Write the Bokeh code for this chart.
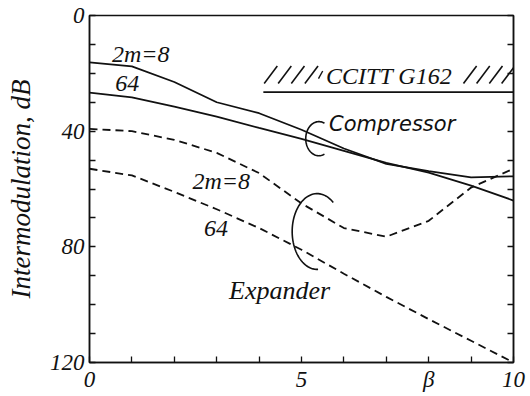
import numpy as np
from bokeh.plotting import figure
from bokeh.models import Range1d, LinearAxis, FixedTicker, Label
from bokeh.embed import file_html
from bokeh.resources import INLINE

# Modulation index beta
beta = [0, 1, 2, 3, 4, 5, 6, 7, 8, 9, 10]

# Intermodulation (dB) for compressor and expander, 2m = 8 and 64
comp_2m8 = [16.2, 17.6, 23.0, 30.0, 33.8, 39.5, 46.0, 51.3, 53.8, 56.0, 55.6]
comp_64 = [26.7, 28.3, 31.5, 35.0, 38.9, 42.7, 46.8, 51.0, 54.3, 58.8, 64.0]
exp_2m8 = [39.2, 40.0, 43.0, 47.5, 54.5, 65.0, 73.5, 76.5, 71.0, 59.5, 53.0]
exp_64 = [53.0, 55.3, 61.0, 67.0, 73.5, 81.0, 89.3, 97.3, 105.0, 112.5, 120.0]

# CCITT G162 limit
g162_level = 26.5
g162_start = 4.1
g162_end = 10.0

# Axis ticks and labels
y_ticks = list(range(0, 130, 10))
y_tick_labels = {0: "0", 40: "40", 80: "80", 120: "120"}
x_ticks = list(range(0, 11))
x_tick_labels = {0: "0", 5: "5", 8: "β", 10: "10"}

INK = "#111111"
SERIF = "Liberation Serif"

p = figure(width=530, height=396, output_backend="svg", toolbar_location=None,
           x_range=Range1d(0, 10), y_range=Range1d(120, 0),
           min_border_left=89, min_border_right=17,
           min_border_top=15, min_border_bottom=34,
           background_fill_color="white", border_fill_color="white")
p.grid.visible = False
p.outline_line_color = INK
p.outline_line_width = 1.5


def style_axis(ax, ticks, labels, show_labels=True):
    ax.ticker = FixedTicker(ticks=ticks)
    ax.major_label_overrides = {t: (labels.get(t, "") if show_labels else "") for t in ticks}
    ax.major_tick_in = 6
    ax.major_tick_out = 0
    ax.major_tick_line_color = INK
    ax.major_tick_line_width = 1.3
    ax.minor_tick_line_color = None
    ax.axis_line_color = INK
    ax.axis_line_width = 1.5
    ax.major_label_text_font = SERIF
    ax.major_label_text_font_style = "italic"
    ax.major_label_text_font_size = "23px"
    ax.major_label_text_color = INK


style_axis(p.xaxis[0], x_ticks, x_tick_labels)
p.xaxis[0].major_label_standoff = 4
style_axis(p.yaxis[0], y_ticks, y_tick_labels)
p.yaxis[0].major_label_standoff = 5
p.yaxis[0].axis_label = "Intermodulation, dB"
p.yaxis[0].axis_label_text_font = SERIF
p.yaxis[0].axis_label_text_font_style = "italic"
p.yaxis[0].axis_label_text_font_size = "27px"
p.yaxis[0].axis_label_text_color = INK
p.yaxis[0].axis_label_standoff = 11

right_axis = LinearAxis()
style_axis(right_axis, y_ticks, y_tick_labels, show_labels=False)
right_axis.major_label_standoff = 0
right_axis.major_label_text_font_size = "1px"
p.add_layout(right_axis, "right")

# Compressor curves (solid)
p.line(beta, comp_2m8, line_color=INK, line_width=1.8)
p.line(beta, comp_64, line_color=INK, line_width=1.8)
# Expander curves (dashed)
p.line(beta, exp_2m8, line_color=INK, line_width=1.8, line_dash="8 5")
p.line(beta, exp_64, line_color=INK, line_width=1.8, line_dash="8 5")

# CCITT G162 limit with hatching above it
p.segment(x0=[g162_start], y0=[g162_level], x1=[g162_end], y1=[g162_level],
          line_color=INK, line_width=1.8)
hatch_base = [4.12, 4.45, 4.76, 5.08, 8.82, 9.13, 9.43, 9.72]
hatch_lo, hatch_hi, hatch_dx = 23.5, 17.5, 0.31
p.segment(x0=hatch_base, y0=[hatch_lo] * len(hatch_base),
          x1=[b + hatch_dx for b in hatch_base], y1=[hatch_hi] * len(hatch_base),
          line_color=INK, line_width=1.6)
p.segment(x0=[5.40], y0=[21.8], x1=[5.50], y1=[19.2], line_color=INK, line_width=1.4)

# Braces grouping the curve pairs
def brace(cx, cy, rx, ry, a0, a1):
    t = np.radians(np.linspace(a0, a1, 60))
    return cx + rx * np.cos(t), cy - ry * np.sin(t)

bx, by = brace(5.41, 42.6, 0.31, 5.9, 65, 295)
p.line(bx, by, line_color=INK, line_width=1.6)
bx, by = brace(5.37, 74.7, 0.59, 13.1, 50, 272)
p.line(bx, by, line_color=INK, line_width=1.6)

# Curve annotations
labels = [
    ("2m=8", 0.53, 13.2, SERIF, "24px"),
    ("64", 0.61, 23.6, SERIF, "24px"),
    ("2m=8", 2.43, 57.1, SERIF, "24px"),
    ("64", 2.70, 73.5, SERIF, "24px"),
    ("CCITT G162", 5.58, 20.8, SERIF, "24px"),
    ("Expander", 3.29, 95.2, SERIF, "26px"),
    ("Compressor", 5.65, 37.5, "DejaVu Sans", "21px"),
]
for txt, x, y, font, size in labels:
    p.add_layout(Label(x=x, y=y, text=txt, text_font=font, text_font_style="italic",
                       text_font_size=size, text_color=INK, text_align="left",
                       text_baseline="middle"))

open("out.html", "w").write(file_html(p, INLINE))
